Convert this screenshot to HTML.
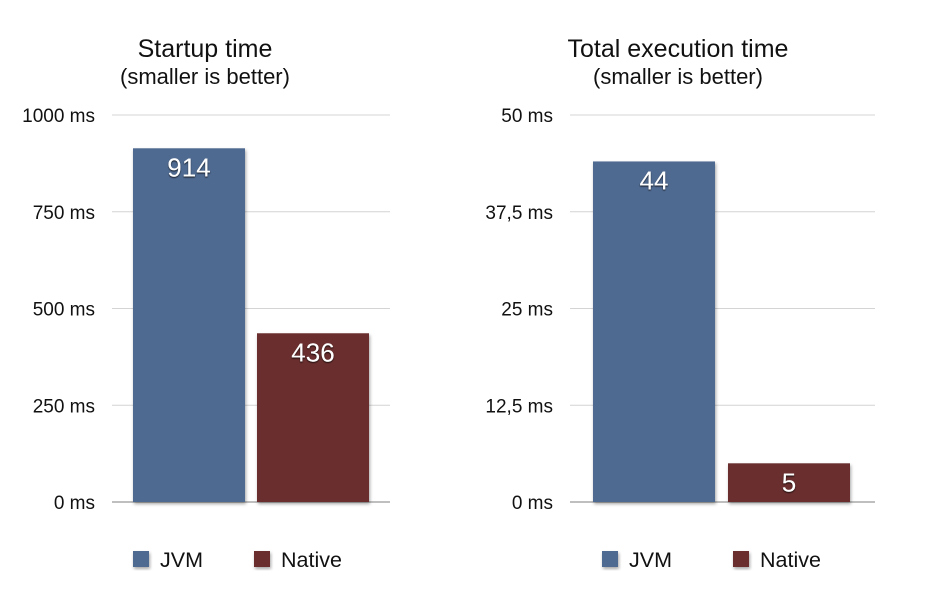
<!DOCTYPE html>
<html><head><meta charset="utf-8"><style>
html,body{margin:0;padding:0;background:#fff;width:931px;height:603px;overflow:hidden}
svg text{font-family:"Liberation Sans",sans-serif}
</style></head><body>
<svg id="c" width="931" height="603" xmlns="http://www.w3.org/2000/svg">
<defs>
<filter id="sh" x="-10%" y="-10%" width="130%" height="130%"><feDropShadow dx="1" dy="2" stdDeviation="1.5" flood-opacity="0.35"/></filter>
<filter id="ts"><feDropShadow dx="0" dy="1" stdDeviation="0.8" flood-color="#000" flood-opacity="0.8"/></filter>
</defs>
</svg>
<script>
const categories = ["JVM", "Native"];
const startupValues = [914, 436];
const startupTicks = ["0 ms", "250 ms", "500 ms", "750 ms", "1000 ms"];
const startupTickValues = [0, 250, 500, 750, 1000];
const execValues = [44, 5];
const execTicks = ["0 ms", "12,5 ms", "25 ms", "37,5 ms", "50 ms"];
const execTickValues = [0, 12.5, 25, 37.5, 50];
const colors = ["#506b91", "#6a2e2e"];

const NS = "http://www.w3.org/2000/svg";
const svg = document.getElementById("c");
function mk(tag, attrs, parent) {
  const e = document.createElementNS(NS, tag);
  for (const k in attrs) e.setAttribute(k, attrs[k]);
  (parent || svg).appendChild(e);
  return e;
}
function chart(cfg) {
  const g = mk("g", {});
  
  
  const base = 502, top = 115, max = cfg.tickValues[cfg.tickValues.length - 1];
  const y = v => base - (v / max) * (base - top);
  const t1 = mk("text", {x: cfg.cx, y: 57, "text-anchor": "middle", "font-size": 25, fill: "#111"}, g);
  t1.textContent = cfg.title;
  
  
  const t2 = mk("text", {x: cfg.cx, y: 84, "text-anchor": "middle", "font-size": 22, fill: "#111"}, g);
  t2.textContent = "(smaller is better)";
  
  
  cfg.tickValues.forEach((tv, i) => {
    const ln = mk("line", {x1: cfg.gx0, x2: cfg.gx1, y1: y(tv), y2: y(tv), stroke: i === 0 ? "#999" : "#d4d4d4", "stroke-width": i === 0 ? 1.2 : 1}, g);
    
    
    const tl = mk("text", {x: cfg.gx0 - 17, y: y(tv) + 7, "text-anchor": "end", "font-size": 19, fill: "#111"}, g);
    tl.textContent = cfg.ticks[i];
    
    
  });
  cfg.values.forEach((v, i) => {
    const bx = cfg.bx[i];
    const r = mk("rect", {x: bx, y: y(v), width: cfg.bw, height: base - y(v), fill: colors[i], filter: "url(#sh)"}, g);
    
    
    const vl = mk("text", {x: bx + cfg.bw / 2, y: y(v) + 28, "text-anchor": "middle", "font-size": 26, fill: "#fff", filter: "url(#ts)"}, g);
    vl.textContent = v;
    
    
    const sq = mk("rect", {x: cfg.lx[i], y: 551, width: 16, height: 16, fill: colors[i], filter: "url(#sh)"}, g);
    
    
    const lt = mk("text", {x: cfg.lx[i] + 27, y: 567, "font-size": 21.5, fill: "#111"}, g);
    lt.textContent = categories[i];
    
    
  });
}
chart({name: "startup-time-chart", title: "Startup time", cx: 205, gx0: 112, gx1: 390, bx: [133, 257], bw: 112, lx: [133, 254], values: startupValues, ticks: startupTicks, tickValues: startupTickValues});
chart({name: "execution-time-chart", title: "Total execution time", cx: 678, gx0: 570, gx1: 875, bx: [593, 728], bw: 122, lx: [602, 733], values: execValues, ticks: execTicks, tickValues: execTickValues});
</script>
</body></html>
